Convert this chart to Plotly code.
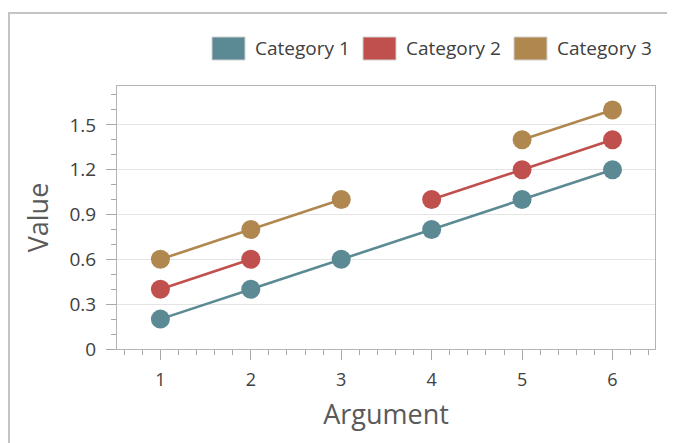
import plotly.graph_objects as go

arguments = [1, 2, 3, 4, 5, 6]
category_1 = [0.2, 0.4, 0.6, 0.8, 1.0, 1.2]
category_2 = [0.4, 0.6, None, 1.0, 1.2, 1.4]
category_3 = [0.6, 0.8, 1.0, None, 1.4, 1.6]
series_names = ["Category 1", "Category 2", "Category 3"]
colors = ["#5b8a94", "#c0504d", "#b0874e"]

# page offset of the figure (default body margin)
OFF = 8
W, H = 675 - OFF, 443 - OFF
# plot area in page coordinates
PL, PR, PT, PB = 117, 655, 86, 349
L, T = PL - OFF, PT - OFF
R, B = W - (PR - OFF), H - (PB - OFF)
PW, PH = PR - PL, PB - PT

def px(x):
    return (x - PL) / PW

def py(y):
    return (PB - y) / PH

FONT = "Open Sans"

fig = go.Figure()
for name, vals, col in zip(series_names, [category_1, category_2, category_3], colors):
    fig.add_trace(go.Scatter(
        x=arguments, y=vals, name=name, mode="lines+markers",
        connectgaps=False,
        line=dict(color=col, width=2.6),
        marker=dict(color=col, size=19),
        showlegend=False,
    ))

shapes = []
annotations = []
# outer frame (left and top edges)
shapes.append(dict(type="line", xref="paper", yref="paper",
                   x0=px(9), x1=px(9), y0=py(470), y1=py(13),
                   line=dict(color="#c4c4c4", width=2)))
shapes.append(dict(type="line", xref="paper", yref="paper",
                   x0=px(8), x1=px(700), y0=py(13), y1=py(13),
                   line=dict(color="#c4c4c4", width=2)))

# manual legend
legend_boxes = [(212, 245, 253), (363, 396, 404), (514, 547, 555)]
for (bx0, bx1, tx), name, col in zip(legend_boxes, series_names, colors):
    shapes.append(dict(type="rect", xref="paper", yref="paper",
                       x0=px(bx0), x1=px(bx1), y0=py(60), y1=py(37),
                       fillcolor=col, line=dict(color="#d0d0d0", width=1)))
    annotations.append(dict(text=name, xref="paper", yref="paper",
                            x=px(tx), y=py(48.5), xanchor="left", yanchor="middle",
                            showarrow=False, font=dict(family=FONT, size=19, color="#404040")))

fig.update_layout(
    width=W, height=H,
    margin=dict(l=L, r=R, t=T, b=B),
    paper_bgcolor="white", plot_bgcolor="white",
    showlegend=False,
    shapes=shapes, annotations=annotations,
    font=dict(family=FONT, color="#404040"),
)
fig.update_xaxes(
    range=[0.52, 6.47], tickmode="linear", tick0=1, dtick=1,
    showgrid=False, zeroline=False,
    showline=True, linecolor="#b4b4b4", linewidth=1, mirror=True,
    ticks="outside", ticklen=10, tickcolor="#a8a8a8", ticklabelstandoff=4,
    minor=dict(dtick=0.2, tick0=0, ticks="outside", ticklen=5, tickcolor="#a8a8a8", showgrid=False),
    tickfont=dict(family=FONT, size=18, color="#404040"),
    title=dict(text="Argument", font=dict(family=FONT, size=27, color="#5a5a5a"), standoff=15),
)
fig.update_yaxes(
    range=[0, 1.76], tickmode="linear", tick0=0, dtick=0.3, tickformat="~g",
    showgrid=True, gridcolor="#e4e4e4", gridwidth=1, zeroline=False,
    showline=True, linecolor="#b4b4b4", linewidth=1, mirror=True,
    ticks="outside", ticklen=10, tickcolor="#a8a8a8", ticklabelstandoff=6,
    minor=dict(dtick=0.1, tick0=0, ticks="outside", ticklen=5, tickcolor="#a8a8a8", showgrid=False),
    tickfont=dict(family=FONT, size=19, color="#404040"),
    title=dict(text="Value", font=dict(family=FONT, size=27, color="#5a5a5a"), standoff=13),
)

fig.write_html("out.html")
